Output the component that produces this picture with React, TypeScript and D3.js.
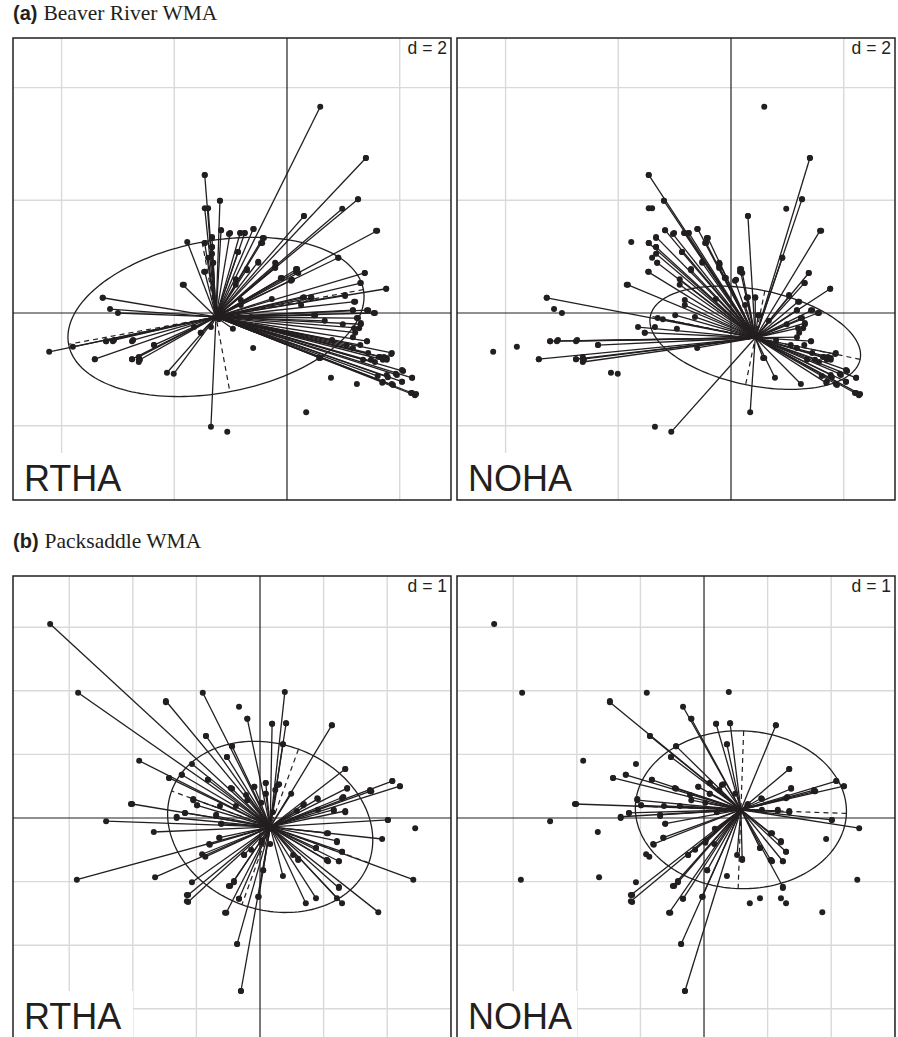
import React from 'react';
import * as d3 from 'd3';

// (a) Beaver River WMA - sites used by each species, [axis1, axis2]
const beaverRTHA: [number, number][] = [
  [0.59, 3.66], [1.40, 2.75], [1.26, 2.02], [0.98, 1.85], [0.30, 1.72], [1.60, 1.46],
  [-1.46, 2.45], [-1.46, 1.86], [-1.40, 1.86], [-1.19, 1.99], [-1.77, 1.26], [-1.17, 1.47],
  [-1.01, 1.42], [-0.83, 1.42], [-0.75, 1.42], [-0.60, 1.49], [-0.43, 1.33], [-0.46, 1.24],
  [-1.46, 1.24], [-1.33, 1.33], [-1.33, 1.17], [-1.40, 0.98], [-1.31, 0.89], [-1.46, 0.73],
  [-0.87, 1.08], [-0.71, 0.78], [-0.51, 0.91], [-0.20, 0.87], [-0.21, 0.80], [0.18, 0.78],
  [0.16, 0.73], [-0.09, 0.62], [0.09, 0.59], [0.91, 0.98], [1.38, 0.71], [1.31, 0.53],
  [1.76, 0.43], [1.03, 0.32], [1.21, 0.20], [-1.85, 0.50], [-0.27, 0.25], [0.28, 0.27],
  [0.43, 0.27], [1.42, 0.05], [1.56, 0.00], [1.17, 0.05], [1.24, -0.09], [0.50, -0.04],
  [0.67, -0.14], [1.31, -0.20], [-3.27, 0.27], [-3.14, 0.07], [-3.00, 0.00], [-4.22, -0.69],
  [-3.80, -0.60], [-3.21, -0.50], [-3.07, -0.48], [-2.73, -0.48], [-3.41, -0.82], [-2.75, -0.82],
  [-2.61, -0.83], [-2.63, -0.78], [-2.36, -0.57], [-2.13, -1.06], [-2.01, -1.08], [-1.53, -0.35],
  [-1.35, -0.25], [-1.35, -2.02], [-0.96, -0.28], [1.28, -0.27], [1.21, -0.35], [1.42, -0.50],
  [0.80, -0.48], [1.06, -0.57], [1.17, -0.62], [1.30, -0.57], [1.44, -0.71], [1.65, -0.78],
  [1.77, -0.80], [1.86, -0.71], [1.35, -0.83], [1.56, -0.87], [1.70, -0.83], [0.59, -0.80],
  [2.06, -1.03], [1.95, -1.10], [1.79, -1.14], [2.22, -1.15], [2.04, -1.22], [1.61, -1.12],
  [1.70, -1.22], [1.88, -1.28], [2.22, -1.42], [2.27, -1.46]
];

const beaverNOHA: [number, number][] = [
  [1.40, 2.75], [1.26, 2.02], [0.30, 1.72], [1.58, 1.46], [-1.46, 2.45], [-1.19, 1.99],
  [-1.17, 1.47], [-1.03, 1.40], [-0.83, 1.42], [-0.75, 1.42], [-0.59, 1.49], [-0.41, 1.33],
  [-0.44, 1.24], [-1.46, 1.24], [-1.33, 1.35], [-1.33, 1.17], [-1.33, 1.05], [-1.31, 0.89],
  [-0.87, 1.08], [-1.47, 0.73], [-0.71, 0.76], [-0.51, 0.89], [-0.21, 0.89], [-0.21, 0.82],
  [0.91, 0.98], [-1.83, 0.50], [-0.91, 0.60], [-0.91, 0.50], [-0.11, 0.62], [0.16, 0.78],
  [0.20, 0.71], [1.38, 0.71], [1.30, 0.53], [1.76, 0.43], [1.03, 0.30], [1.19, 0.20],
  [0.30, 0.28], [0.43, 0.28], [0.25, 0.14], [-0.82, 0.23], [-0.82, 0.14], [-0.99, -0.04],
  [-1.30, -0.09], [-1.21, -0.11], [-1.65, -0.25], [-1.53, -0.35], [1.17, 0.05], [1.44, 0.05],
  [1.54, 0.00], [1.26, -0.09], [1.31, -0.18], [1.19, -0.27], [0.48, -0.04], [-0.64, -0.07],
  [-3.27, 0.27], [-3.21, -0.50], [-3.09, -0.50], [-2.75, -0.50], [-2.36, -0.57], [-3.41, -0.82],
  [-2.75, -0.82], [-2.63, -0.82], [-2.63, -0.87], [-1.06, -2.11], [-0.60, -0.62], [0.34, -1.76],
  [0.57, -0.80], [0.78, -1.15], [1.24, -1.26], [1.42, -0.50], [1.17, -0.43], [1.85, -0.73],
  [1.72, -0.78], [1.63, -0.78], [1.49, -0.83], [1.77, -0.83], [2.04, -1.01], [1.93, -1.08],
  [1.77, -1.10], [2.22, -1.15], [1.69, -1.24], [1.86, -1.26], [2.04, -1.22], [2.20, -1.42],
  [2.29, -1.44], [0.99, -0.20], [0.07, 0.57]
];

// (b) Packsaddle WMA
const packRTHA: [number, number][] = [
  [-3.30, 3.05], [-2.86, 1.97], [-0.90, 1.97], [-1.48, 1.84], [-0.20, 1.56], [0.39, 1.98],
  [0.19, 1.48], [0.41, 1.49], [1.13, 1.46], [-0.85, 1.29], [-0.44, 1.13], [-0.52, 0.96],
  [0.36, 1.16], [-1.90, 0.90], [-1.07, 0.85], [-1.23, 0.68], [-1.43, 0.63], [-0.82, 0.60],
  [1.34, 0.77], [1.37, 0.47], [2.08, 0.58], [2.20, 0.50], [0.09, 0.55], [0.28, 0.52],
  [1.73, 0.42], [1.31, 0.33], [0.91, 0.30], [1.34, 0.11], [1.16, 0.13], [0.69, 0.22],
  [0.58, 0.11], [-1.05, 0.30], [-0.99, 0.20], [-1.18, 0.08], [-1.31, 0.00], [-0.61, -0.09],
  [-0.69, 0.03], [-0.44, 0.46], [-0.22, 0.36], [-0.09, 0.49], [0.09, 0.38], [0.49, 0.38],
  [2.01, -0.03], [-1.67, -0.22], [-0.64, -0.31], [-0.79, -0.42], [1.07, -0.24], [1.21, -0.36],
  [1.92, -0.33], [0.88, -0.47], [1.29, -0.53], [-0.91, -0.57], [-0.86, -0.61], [1.07, -0.68],
  [1.24, -0.68], [2.41, -0.97], [-2.88, -0.97], [-1.65, -0.93], [-1.07, -1.01], [0.36, -0.91],
  [0.05, -0.82], [-0.47, -1.07], [-0.41, -0.99], [-1.13, -1.21], [-1.13, -1.32], [-0.33, -1.27],
  [-0.02, -1.24], [0.72, -1.34], [0.88, -1.26], [1.21, -1.26], [1.29, -1.34], [1.24, -1.10],
  [1.86, -1.48], [-0.53, -1.49], [-0.36, -1.98], [-0.30, -2.72], [-2.01, 0.22], [-2.42, -0.05],
  [0.60, -0.66], [-0.25, -0.58], [1.05, -0.66]
];

const packNOHA: [number, number][] = [
  [-1.48, 1.82], [-0.33, 1.75], [-0.20, 1.56], [0.19, 1.48], [0.41, 1.49], [1.13, 1.46],
  [-0.85, 1.29], [-0.44, 1.13], [-0.52, 0.96], [0.36, 1.16], [1.34, 0.77], [-1.23, 0.68],
  [-1.43, 0.63], [-0.82, 0.60], [-0.46, 0.47], [-0.09, 0.49], [0.09, 0.55], [0.30, 0.53],
  [1.37, 0.46], [2.08, 0.58], [2.20, 0.50], [1.75, 0.42], [-2.03, 0.22], [-1.15, -1.21],
  [-1.15, -1.31], [-1.05, 0.28], [-0.99, 0.20], [-1.31, 0.02], [-1.18, 0.08], [-0.69, 0.05],
  [-0.61, -0.09], [-0.64, -0.31], [-0.80, -0.41], [-0.25, -0.58], [-0.14, -0.50], [0.03, -0.35],
  [0.02, -0.39], [0.17, -0.17], [0.16, -0.41], [0.05, -0.82], [-0.41, -1.01], [-0.49, -1.07],
  [-0.33, -1.27], [-0.03, -1.24], [-0.55, -1.49], [-0.36, -1.98], [-0.30, -2.72], [0.52, -0.58],
  [0.60, -0.64], [0.88, -0.47], [1.05, -0.24], [1.21, -0.38], [1.29, -0.53], [1.24, -0.68],
  [1.05, -0.66], [1.24, -1.08], [2.01, -0.03], [2.44, -0.16], [1.16, 0.11], [1.34, 0.09],
  [0.91, 0.13], [0.68, 0.20], [0.90, 0.31], [1.29, 0.31], [1.73, 0.44], [0.24, 0.44],
  [0.09, 0.38], [-0.20, 0.28], [0.02, 0.24], [-0.38, 0.19], [-0.63, 0.19], [0.20, 0.09]
];

const species = ['RTHA', 'NOHA'];
const siteLetters = ['(a)', '(b)'];
const siteNames = ['Beaver River WMA', 'Packsaddle WMA'];
const gridSteps = [2, 1];
const siteXlim = [[-4.862, 2.91], [-3.884, 3.003]];
const siteYlim = [[-3.319, 4.88], [-3.459, 3.805]];
const sitePoints = [[beaverRTHA, beaverNOHA], [packRTHA, packNOHA]];
// class centroids [x, y]
const siteCentroids = [[[-1.26, -0.07], [0.43, -0.44]], [[0.16, -0.14], [0.58, 0.13]]];
// ellipse semi-axes and angle (degrees): [a, b, angle]
const siteEllipses = [[[2.66, 1.35, 10.5], [1.90, 0.85, -11.6]], [[1.65, 1.30, -20], [1.66, 1.24, -2]]];

const ink = '#231f20';
const panelW = 438;
const panelH = 462;
const panelX = [13, 457];
const panelY = [38, 576];
const titleY = [20, 548];

function Panel({ s, k }: { s: number; k: number }) {
  const x0 = panelX[k];
  const y0 = panelY[s];
  const x = d3.scaleLinear().domain(siteXlim[s]).range([x0, x0 + panelW]);
  const y = d3.scaleLinear().domain(siteYlim[s]).range([y0 + panelH, y0]);
  const d = gridSteps[s];
  const gx = d3.range(Math.ceil(siteXlim[s][0] / d) * d, siteXlim[s][1], d).filter(v => Math.abs(v) > 1e-9);
  const gy = d3.range(Math.ceil(siteYlim[s][0] / d) * d, siteYlim[s][1], d).filter(v => Math.abs(v) > 1e-9);
  const allPts = [...sitePoints[s][0], ...sitePoints[s][1]];
  const own = sitePoints[s][k];
  const [cx, cy] = siteCentroids[s][k];
  const [ea, eb, eang] = siteEllipses[s][k];
  const th = (eang * Math.PI) / 180;
  const ellPt = (t: number): [number, number] => {
    const u = ea * Math.cos(t);
    const v = eb * Math.sin(t);
    return [cx + u * Math.cos(th) - v * Math.sin(th), cy + u * Math.sin(th) + v * Math.cos(th)];
  };
  const ellipse = d3.line<number>()
    .x(t => x(ellPt(t)[0]))
    .y(t => y(ellPt(t)[1]))
    .curve(d3.curveLinearClosed)(d3.range(0, 2 * Math.PI, Math.PI / 90));
  const axes = [0, Math.PI / 2].map(t => [ellPt(t), ellPt(t + Math.PI)]);
  const clipId = `clip-${s}-${k}`;

  return (
    <g>
      <defs>
        <clipPath id={clipId}>
          <rect x={x0} y={y0} width={panelW} height={panelH} />
        </clipPath>
      </defs>
      <g clipPath={`url(#${clipId})`}>
        <rect x={x0} y={y0} width={panelW} height={panelH} fill="white" />
        {gx.map(v => (
          <line key={'gx' + v} x1={x(v)} x2={x(v)} y1={y0} y2={y0 + panelH} stroke="#d9d9d9" strokeWidth={1.4} />
        ))}
        {gy.map(v => (
          <line key={'gy' + v} x1={x0} x2={x0 + panelW} y1={y(v)} y2={y(v)} stroke="#d9d9d9" strokeWidth={1.4} />
        ))}
        <line x1={x(0)} x2={x(0)} y1={y0} y2={y0 + panelH} stroke={ink} strokeWidth={1.2} />
        <line x1={x0} x2={x0 + panelW} y1={y(0)} y2={y(0)} stroke={ink} strokeWidth={1.2} />
        {allPts.map((p, i) => (
          <circle key={'p' + i} cx={x(p[0])} cy={y(p[1])} r={3} fill={ink} />
        ))}
        {own.map((p, i) => (
          <line key={'s' + i} x1={x(cx)} y1={y(cy)} x2={x(p[0])} y2={y(p[1])} stroke={ink} strokeWidth={1.3} />
        ))}
        {axes.map((a, i) => (
          <line key={'ax' + i} x1={x(a[0][0])} y1={y(a[0][1])} x2={x(a[1][0])} y2={y(a[1][1])}
            stroke={ink} strokeWidth={1.2} strokeDasharray="5,4" />
        ))}
        <path d={ellipse || ''} fill="none" stroke={ink} strokeWidth={1.3} />
        <rect x={x0 + panelW - 50} y={y0} width={50} height={22} fill="white" />
        <text x={x0 + panelW - 4} y={y0 + 16} textAnchor="end" fontFamily="Liberation Sans, Arial, sans-serif"
          fontSize={17.5} fill={ink}>{`d = ${d}`}</text>
        <rect x={x0} y={y0 + panelH - 47} width={120} height={47} fill="white" />
        <text x={x0 + 11} y={y0 + panelH - 9} fontFamily="Liberation Sans, Arial, sans-serif"
          fontSize={36} fill={ink}>{species[k]}</text>
      </g>
      <rect x={x0} y={y0} width={panelW} height={panelH} fill="none" stroke={ink} strokeWidth={1.5} />
    </g>
  );
}

export default function App() {
  return (
    <div>
      <style>{`body{margin:0;background:#fff}`}</style>
      <svg width={898} height={1037} style={{ display: 'block' }}>
        <rect width={898} height={1037} fill="white" />
        {[0, 1].map(s => (
          <g key={s}>
            <text x={13} y={titleY[s]} fill={ink}>
              <tspan fontFamily="Liberation Sans, Arial, sans-serif" fontWeight="bold" fontSize={20}>{siteLetters[s]}</tspan>
              <tspan dx={6} fontFamily="Liberation Serif, Times New Roman, serif" fontSize={21.5}>{siteNames[s]}</tspan>
            </text>
            <Panel s={s} k={0} />
            <Panel s={s} k={1} />
          </g>
        ))}
      </svg>
    </div>
  );
}
